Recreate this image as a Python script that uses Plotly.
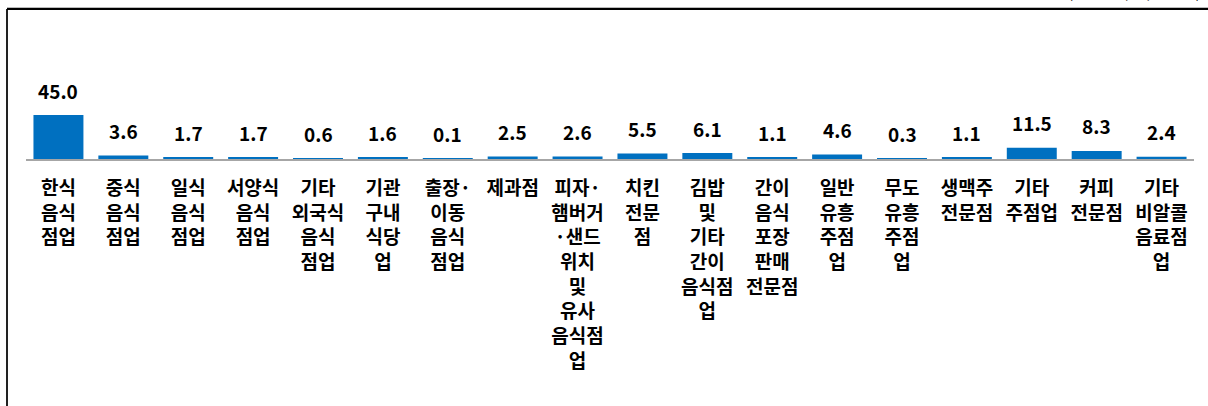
import plotly.graph_objects as go

categories = [
    "한식<br>음식<br>점업",
    "중식<br>음식<br>점업",
    "일식<br>음식<br>점업",
    "서양식<br>음식<br>점업",
    "기타<br>외국식<br>음식<br>점업",
    "기관<br>구내<br>식당<br>업",
    "출장·<br>이동<br>음식<br>점업",
    "제과점",
    "피자·<br>햄버거<br>·샌드<br>위치<br>및<br>유사<br>음식점<br>업",
    "치킨<br>전문<br>점",
    "김밥<br>및<br>기타<br>간이<br>음식점<br>업",
    "간이<br>음식<br>포장<br>판매<br>전문점",
    "일반<br>유흥<br>주점<br>업",
    "무도<br>유흥<br>주점<br>업",
    "생맥주<br>전문점",
    "기타<br>주점업",
    "커피<br>전문점",
    "기타<br>비알콜<br>음료점<br>업",
]
values = [45.0, 3.6, 1.7, 1.7, 0.6, 1.6, 0.1, 2.5, 2.6, 5.5, 6.1, 1.1, 4.6, 0.3, 1.1, 11.5, 8.3, 2.4]
value_labels = [f"{v:.1f}" for v in values]
unit_text = "(단위 : 개, %, 백만원)"

FONT = "Noto Sans CJK KR"

fig = go.Figure()
fig.add_trace(go.Bar(
    x=categories, y=values,
    marker=dict(color="#0070C0", line=dict(width=0)),
    hoverinfo="skip",
))

for c, v, t in zip(categories, values, value_labels):
    fig.add_annotation(
        x=c, y=v, text=f"<b>{t}</b>", showarrow=False,
        xref="x", yref="y", yanchor="middle", yshift=25,
        font=dict(family=FONT, size=19, color="#000000"),
    )

# frame lines (left and top)
W_PLOT = 1168.0
L = 26.0
def px2x(px):
    return (px - L) / W_PLOT
def py2y(py):
    return (159.0 - py) / 100.0

fig.add_shape(type="line", xref="paper", yref="paper",
              x0=px2x(7), x1=px2x(7), y0=py2y(9), y1=py2y(410),
              line=dict(color="#222222", width=2))
fig.add_shape(type="line", xref="paper", yref="paper",
              x0=px2x(7), x1=px2x(1210), y0=py2y(9), y1=py2y(9),
              line=dict(color="#000000", width=2))
fig.add_shape(type="line", xref="paper", yref="paper",
              x0=px2x(7), x1=px2x(1210), y0=py2y(7.5), y1=py2y(7.5),
              line=dict(color="#bbbbbb", width=1))

fig.add_annotation(
    x=px2x(1203), y=py2y(4), xref="paper", yref="paper",
    xanchor="right", yanchor="bottom", showarrow=False,
    text=unit_text, font=dict(family=FONT, size=15, color="#000000"),
)

fig.update_layout(
    width=1208, height=406,
    margin=dict(l=26, r=14, t=59, b=247, pad=0),
    paper_bgcolor="white", plot_bgcolor="white",
    bargap=0.23,
    showlegend=False,
    font=dict(family=FONT, color="#000000"),
)
fig.update_xaxes(
    type="category",
    showline=True, linecolor="#a6a6a6", linewidth=2,
    showgrid=False, ticks="", zeroline=False,
    tickfont=dict(family=FONT, size=19, color="#000000", weight="bold"),
    tickangle=0,
    ticklabelstandoff=11,
)
fig.update_yaxes(
    range=[0, 102.3], visible=False, showgrid=False, zeroline=False,
)

fig.write_html(
    "out.html",
    config={"displayModeBar": False},
    post_script="document.body.style.margin='0';document.body.style.overflow='hidden';",
)
